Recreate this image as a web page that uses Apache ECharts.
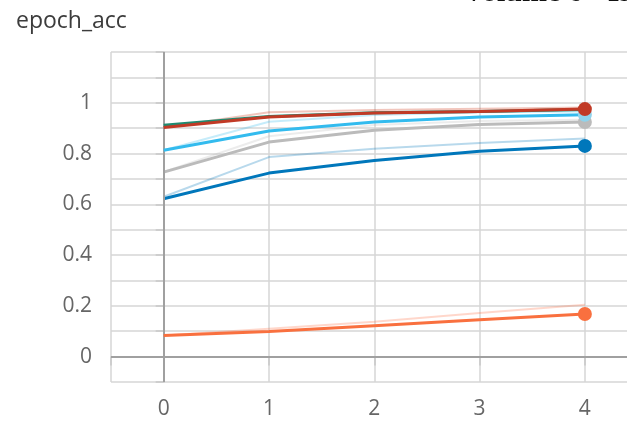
<!DOCTYPE html>
<html>
<head>
<meta charset="utf-8">
<script src="https://cdn.jsdelivr.net/npm/echarts@6/dist/echarts.min.js"></script>
<style>
html,body{margin:0;padding:0;background:#fff;}
#chart{width:627px;height:425px;}
</style>
</head>
<body>
<div id="chart"></div>
<script>
// ---- data ----
const epochs = [0, 1, 2, 3, 4];
const xTickLabels = [0, 1, 2, 3, 4];
const yTickLabels = [0, 0.2, 0.4, 0.6, 0.8, 1];

const redSmooth    = [0.903, 0.944, 0.960, 0.966, 0.975];
const redRaw       = [0.903, 0.963, 0.972, 0.976, 0.981];
const tealSmooth   = [0.911, 0.946, 0.961, 0.966, 0.973];
const cyanSmooth   = [0.813, 0.889, 0.924, 0.944, 0.953];
const cyanRaw      = [0.813, 0.925, 0.952, 0.963, 0.966];
const greySmooth   = [0.727, 0.845, 0.892, 0.914, 0.924];
const greyRaw      = [0.727, 0.868, 0.912, 0.928, 0.933];
const blueSmooth   = [0.622, 0.723, 0.773, 0.809, 0.830];
const blueRaw      = [0.630, 0.786, 0.819, 0.842, 0.859];
const orangeSmooth = [0.083, 0.099, 0.122, 0.145, 0.168];
const orangeRaw    = [0.083, 0.110, 0.137, 0.172, 0.204];

// ---- helpers ----
function pairs(vals, marker, mcolor) {
  return vals.map((v, i) => {
    if (marker && i === vals.length - 1) {
      const d = { value: [epochs[i], v], symbol: 'circle', symbolSize: 14 };
      if (mcolor) d.itemStyle = { color: mcolor };
      return d;
    }
    return { value: [epochs[i], v], symbol: 'none' };
  });
}
function raw(name, vals, color) {
  return {
    name: name, type: 'line', data: pairs(vals, false), silent: true,
    lineStyle: { color: color, width: 2, opacity: 0.28 },
    itemStyle: { color: color }, z: 2
  };
}
function smooth(name, vals, color, marker, z, mcolor) {
  return {
    name: name, type: 'line', data: pairs(vals, marker, mcolor), silent: true,
    lineStyle: { color: color, width: 3 },
    itemStyle: { color: color, opacity: 1 }, z: z || 3
  };
}

const chart = echarts.init(document.getElementById('chart'), null, { renderer: 'canvas' });

const gridColor = '#d6d6d6';

const option = {
  animation: false,
  backgroundColor: '#ffffff',
  title: {
    text: 'epoch_acc', left: 11, top: 5,
    textStyle: { fontFamily: 'Open Sans', fontSize: 23, fontWeight: 'normal', color: '#3c3c3c' }
  },
  graphic: [{
    type: 'text', left: 463, top: -22,
    style: { text: 'Volume 6 · Issue 1', font: 'bold 30px "Liberation Serif"', fill: '#111' }
  }],
  grid: { left: 111, right: 0, top: 52, bottom: 43, containLabel: false },
  xAxis: {
    type: 'value', min: -0.5, max: 4.4,
    axisLine: { show: false },
    axisTick: { show: true, length: 9, customValues: [-0.5].concat(xTickLabels), lineStyle: { color: '#c8c8c8', width: 1.5 } },
    axisLabel: { customValues: xTickLabels, margin: 17, fontFamily: 'Open Sans', fontSize: 21, color: '#666',
      formatter: v => String(Math.round(v)) },
    splitLine: { show: true, lineStyle: { color: gridColor, width: 1.5 } }
  },
  yAxis: {
    type: 'value', min: -0.1, max: 1.2, interval: 0.1,
    axisLine: { show: true, lineStyle: { color: '#c8c8c8', width: 1.5 } },
    axisTick: { show: true, length: 8, lineStyle: { color: '#c8c8c8', width: 1.5 } },
    axisLabel: {
      margin: 19, fontFamily: 'Open Sans', fontSize: 21, color: '#666',
      formatter: function (v) {
        const r = Math.round(v * 10);
        return yTickLabels.some(t => Math.round(t * 10) === r) ? String(r / 10) : '';
      }
    },
    splitLine: { show: true, lineStyle: { color: gridColor, width: 1.5 } }
  },
  series: [
    raw('blue raw', blueRaw, '#0077bb'),
    raw('grey raw', greyRaw, '#bbbbbb'),
    raw('cyan raw', cyanRaw, '#33bbee'),
    raw('red raw', redRaw, '#cc3311'),
    raw('orange raw', orangeRaw, '#ff7043'),
    Object.assign(smooth('zero', [], '#999'), {
      markLine: {
        silent: true, symbol: 'none', label: { show: false },
        lineStyle: { color: '#a0a0a0', width: 2, type: 'solid' },
        data: [{ xAxis: 0 }, { yAxis: 0 }]
      }, z: 1
    }),
    smooth('grey', greySmooth, '#bbbbbb', true, 3),
    smooth('blue', blueSmooth, '#0077bb', true, 4),
    smooth('cyan', cyanSmooth, '#33bbee', true, 5, '#8fd3ec'),
    smooth('teal', tealSmooth, '#1f8a70', false, 6),
    smooth('red', redSmooth, '#c13a26', true, 7),
    smooth('orange', orangeSmooth, '#f9703f', true, 8)
  ]
};
chart.setOption(option);
</script>
</body>
</html>
